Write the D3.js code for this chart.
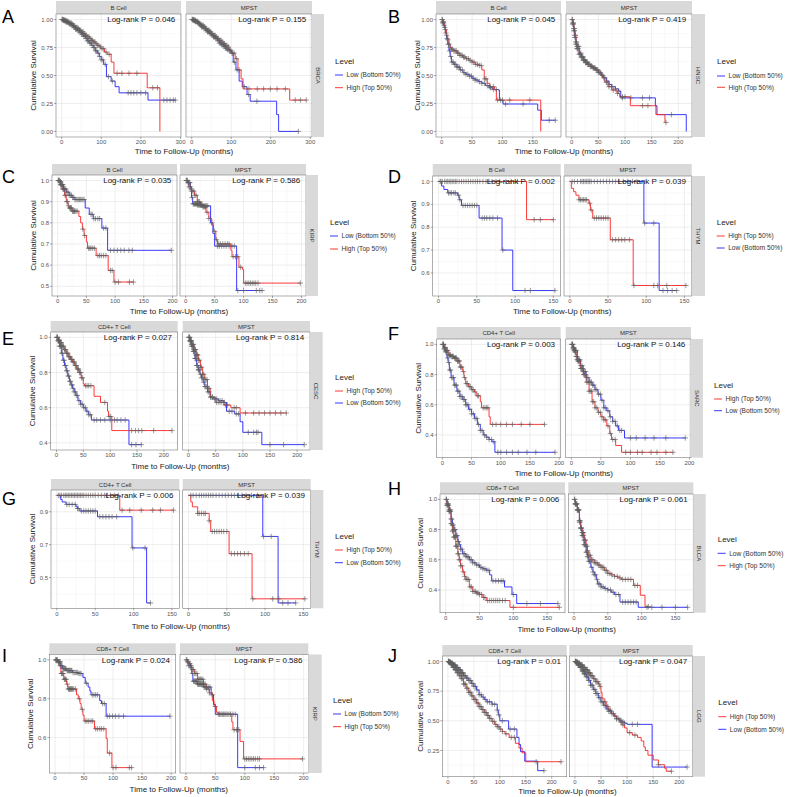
<!DOCTYPE html>
<html>
<head>
<meta charset="utf-8">
<script src="https://cdn.jsdelivr.net/npm/d3@7"></script>
<style>
  body { margin: 0; background: #fff; }
  svg { display: block; font-family: "Liberation Sans", Arial, sans-serif; font-weight: normal; }
</style>
</head>
<body>
<svg id="fig" width="787" height="797"></svg>
<script>
// ---- categories / labels ----
const letters = ["A", "B", "C", "D", "E", "F", "G", "H", "I", "J"];
const cancers = ["BRCA", "HNSC", "KIRP", "THYM", "CESC", "SARC", "THYM", "BLCA", "KIRP", "LGG"];
const cellTypes = ["B Cell", "B Cell", "B Cell", "B Cell", "CD4+ T Cell", "CD4+ T Cell",
  "CD4+ T Cell", "CD8+ T Cell", "CD8+ T Cell", "CD8+ T Cell"];
const pCell = ["0.046", "0.045", "0.035", "0.002", "0.027", "0.003", "0.006", "0.006", "0.024", "0.01"];
const pMpst = ["0.155", "0.419", "0.586", "0.039", "0.814", "0.146", "0.039", "0.061", "0.586", "0.047"];
const legendFirst = ["low", "low", "low", "high", "high", "high", "high", "low", "low", "high"];
const groupLabels = { low: "Low (Bottom 50%)", high: "High (Top 50%)" };
const yTicks = [
  [0, 0.25, 0.5, 0.75, 1], [0, 0.25, 0.5, 0.75, 1], [0.5, 0.6, 0.7, 0.8, 0.9, 1], [0.6, 0.7, 0.8, 0.9, 1],
  [0.4, 0.6, 0.8, 1], [0.4, 0.6, 0.8, 1], [0.5, 0.7, 0.9], [0.4, 0.6, 0.8, 1], [0.6, 0.8, 1], [0.25, 0.5, 0.75, 1]
];
const yDigits = [2, 2, 1, 1, 1, 1, 1, 1, 1, 2];
const xStep = [100, 50, 50, 50, 50, 50, 50, 50, 50, 50];

// ---- survival curves: [time, survival] steps, and censor times ----
// A BRCA
const aCellLow = [[0,1],[5,0.99],[10,0.98],[15,0.97],[20,0.96],[25,0.945],[30,0.93],[35,0.915],[40,0.9],[45,0.885],[50,0.87],[55,0.85],[60,0.83],[65,0.81],[70,0.79],[75,0.77],[80,0.75],[85,0.72],[90,0.7],[95,0.67],[100,0.64],[106,0.6],[113,0.49],[125,0.45],[135,0.4],[145,0.345],[218,0.28]];
const aCellLowCens = [2,4,6,8,10,12,14,17,20,23,26,29,32,35,38,41,44,47,50,53,56,59,62,65,68,71,74,77,80,83,86,89,92,96,100,104,110,118,128,168,175,182,190,200,212,258,266,274,282,287];
const aCellHigh = [[0,1],[5,0.995],[10,0.99],[15,0.98],[20,0.97],[25,0.96],[30,0.945],[35,0.93],[40,0.92],[45,0.905],[50,0.89],[55,0.875],[60,0.86],[65,0.845],[70,0.83],[75,0.815],[80,0.8],[85,0.785],[90,0.77],[95,0.755],[100,0.74],[108,0.71],[115,0.69],[125,0.62],[132,0.52],[216,0.39],[248,0]];
const aCellHighCens = [1,3,5,7,9,11,13,15,18,21,24,27,30,33,36,39,42,45,48,51,54,57,60,63,66,69,72,75,78,81,84,87,90,94,98,102,106,112,120,140,152,170,190,230,242];
const aMpstLow = [[0,1],[5,0.99],[10,0.98],[15,0.965],[20,0.95],[25,0.935],[30,0.92],[35,0.905],[40,0.89],[45,0.875],[50,0.86],[55,0.845],[60,0.83],[65,0.81],[70,0.79],[75,0.775],[80,0.76],[85,0.745],[90,0.73],[95,0.72],[100,0.7],[105,0.62],[112,0.55],[120,0.45],[128,0.4],[140,0.33],[148,0.27],[215,0.15],[220,0]];
const aMpstLowCens = [2,4,6,8,10,13,16,19,22,25,28,31,34,37,40,43,46,49,52,55,58,61,64,67,70,73,76,79,82,85,88,91,95,99,103,108,115,133,144,165,270];
const aMpstHigh = [[0,1],[5,0.995],[10,0.985],[15,0.975],[20,0.96],[25,0.95],[30,0.935],[35,0.92],[40,0.905],[45,0.89],[50,0.875],[55,0.86],[60,0.845],[65,0.83],[70,0.815],[75,0.8],[80,0.785],[85,0.77],[90,0.755],[95,0.73],[100,0.7],[110,0.65],[117,0.55],[125,0.47],[130,0.38],[248,0.28]];
const aMpstHighCens = [1,3,5,7,9,11,14,17,20,23,26,29,32,35,38,41,44,47,50,53,56,59,62,65,68,71,74,77,80,83,86,89,93,97,102,107,113,120,145,166,182,199,216,237,262,275,290];
// B HNSC
const bCellLow = [[0,1],[2,0.97],[4,0.93],[6,0.88],[8,0.83],[10,0.78],[12,0.72],[14,0.67],[16,0.62],[20,0.6],[25,0.575],[30,0.55],[35,0.525],[40,0.51],[45,0.495],[50,0.475],[55,0.46],[60,0.445],[66,0.43],[72,0.41],[78,0.39],[84,0.375],[93,0.37],[95,0.28],[101,0.245],[158,0.19],[164,0.1]];
const bCellLowCens = [1,2,3,5,7,9,11,13,15,17,19,21,23,25,27,29,31,34,37,40,43,46,49,52,55,58,62,66,70,75,80,85,90,97,105,134,177,187];
const bCellHigh = [[0,1],[2,0.98],[4,0.95],[6,0.91],[8,0.86],[10,0.82],[12,0.78],[14,0.75],[16,0.735],[20,0.72],[25,0.7],[30,0.68],[35,0.665],[40,0.65],[45,0.635],[50,0.62],[55,0.6],[60,0.59],[66,0.55],[70,0.47],[75,0.43],[79,0.4],[87,0.37],[90,0.28],[163,0]];
const bCellHighCens = [1,2,3,4,6,8,10,12,14,16,18,20,22,24,26,28,30,32,34,36,38,41,44,47,50,53,56,59,62,65,71,73,80,85,92,100,112,145];
const bMpstLow = [[0,1],[2,0.96],[4,0.9],[6,0.84],[8,0.78],[10,0.74],[14,0.69],[18,0.66],[22,0.635],[26,0.615],[30,0.6],[35,0.58],[40,0.565],[45,0.55],[50,0.525],[55,0.5],[60,0.48],[65,0.45],[70,0.42],[75,0.4],[82,0.38],[88,0.36],[92,0.3],[157,0.23],[160,0.15],[215,0]];
const bMpstLowCens = [1,2,3,4,5,6,7,8,9,10,11,12,14,16,18,20,22,24,26,28,30,32,35,38,41,44,47,50,54,58,62,66,70,76,82,88,95,111,133,146,187];
const bMpstHigh = [[0,1],[2,0.97],[4,0.92],[6,0.86],[8,0.8],[10,0.76],[14,0.7],[18,0.67],[22,0.64],[26,0.62],[30,0.6],[35,0.585],[40,0.57],[45,0.55],[50,0.53],[55,0.51],[58,0.48],[62,0.44],[68,0.4],[75,0.37],[85,0.34],[90,0.31],[110,0.23],[158,0.15],[175,0.08]];
const bMpstHighCens = [1,2,3,4,5,6,7,8,9,10,12,13,15,17,19,21,23,25,27,29,31,34,37,40,43,46,49,52,56,60,65,70,78,86,95,100,133,143,177];
// C KIRP
const cCellLow = [[0,1],[3,0.995],[6,0.98],[10,0.96],[15,0.945],[20,0.93],[25,0.92],[30,0.91],[48,0.87],[55,0.84],[62,0.82],[77,0.775],[87,0.67]];
const cCellLowCens = [2,4,5,7,8,9,11,12,14,16,18,20,22,24,26,28,30,32,34,36,38,40,42,44,46,58,60,63,66,70,73,80,84,92,98,104,110,116,124,130,198];
const cCellHigh = [[0,1],[4,0.98],[8,0.96],[12,0.93],[15,0.9],[18,0.88],[20,0.87],[25,0.855],[37,0.83],[40,0.8],[43,0.77],[46,0.74],[50,0.71],[52,0.68],[67,0.645],[88,0.575],[98,0.52]];
const cCellHighCens = [1,2,3,5,6,7,9,10,11,13,14,16,17,19,21,22,23,24,26,27,28,29,30,32,34,44,47,54,56,58,61,64,70,73,76,80,84,92,95,100,106,125,132];
const cMpstLow = [[0,1],[4,0.99],[8,0.96],[10,0.92],[12,0.89],[20,0.885],[30,0.88],[43,0.8],[47,0.75],[50,0.69],[88,0.48]];
const cMpstLowCens = [2,3,5,6,7,9,11,13,14,15,16,17,18,19,20,21,22,23,24,25,26,27,28,30,32,34,36,38,45,55,58,62,66,70,75,80,84,90,100,122,128,132];
const cMpstHigh = [[0,1],[3,0.99],[5,0.97],[10,0.95],[15,0.93],[20,0.9],[25,0.885],[30,0.875],[35,0.85],[40,0.82],[45,0.79],[48,0.76],[52,0.72],[55,0.7],[78,0.67],[80,0.64],[92,0.59],[98,0.58],[100,0.515]];
const cMpstHighCens = [1,2,4,6,8,10,12,14,16,18,20,22,24,26,28,30,32,34,37,40,50,53,57,60,64,68,72,75,82,86,90,95,103,106,109,112,115,118,121,125,198];
// D THYM
const dCellHigh = [[0,1],[115,0.833]];
const dCellHighCens = [3,5,8,10,12,14,16,18,20,22,24,27,30,33,36,39,42,45,48,51,54,58,62,66,70,75,80,88,95,103,125,133,150];
const dCellLow = [[0,1],[4,0.98],[7,0.965],[12,0.95],[25,0.94],[27,0.92],[30,0.895],[53,0.84],[83,0.7],[97,0.523]];
const dCellLowCens = [2,13,15,17,20,22,26,28,32,35,38,41,44,47,50,57,60,63,67,71,77,84,113,120,152];
const dMpstHigh = [[0,1],[2,0.97],[5,0.955],[8,0.94],[12,0.92],[25,0.905],[27,0.875],[30,0.84],[53,0.745],[83,0.545]];
const dMpstHighCens = [12,14,16,18,20,22,26,28,32,35,38,41,44,47,50,56,60,64,68,72,78,84,110,115,127,152];
const dMpstLow = [[0,1],[97,0.818],[117,0.523]];
const dMpstLowCens = [3,6,10,14,16,18,20,22,24,26,28,32,36,40,44,48,52,56,60,64,70,76,82,88,98,110,122,128,134,140];
// E CESC
const eCellHigh = [[0,1],[3,0.985],[6,0.97],[10,0.95],[14,0.93],[18,0.91],[22,0.89],[26,0.875],[30,0.86],[34,0.84],[38,0.82],[42,0.8],[46,0.77],[50,0.735],[52,0.725],[70,0.665],[82,0.63],[95,0.58],[97,0.55],[103,0.47]];
const eCellHighCens = [1,2,4,5,7,8,9,11,12,13,15,16,17,19,20,21,23,24,25,27,28,29,31,32,33,35,36,37,39,40,41,43,44,45,47,48,54,57,60,64,90,98,101,140,147,153,159,181,215];
const eCellLow = [[0,1],[3,0.98],[6,0.95],[9,0.91],[12,0.87],[15,0.84],[18,0.81],[21,0.78],[24,0.75],[27,0.73],[30,0.71],[33,0.69],[36,0.67],[40,0.64],[45,0.62],[50,0.6],[55,0.58],[60,0.56],[65,0.53],[135,0.39]];
const eCellLowCens = [1,2,3,4,5,6,7,8,10,11,13,14,16,17,19,20,22,23,25,26,28,29,31,33,35,37,39,42,45,48,51,54,57,60,63,70,75,82,90,100,108,113,120,128,140,148,158];
const eMpstHigh = [[0,1],[3,0.98],[6,0.96],[10,0.93],[14,0.9],[18,0.87],[22,0.83],[26,0.79],[30,0.76],[35,0.71],[40,0.66],[50,0.63],[65,0.615],[78,0.6],[95,0.57]];
const eMpstHighCens = [1,2,3,4,5,6,7,8,9,10,11,12,13,14,15,16,17,18,20,22,24,26,28,30,32,34,36,38,41,44,52,56,60,68,72,84,88,105,120,130,140,150,160,170,180];
const eMpstLow = [[0,1],[3,0.98],[6,0.95],[9,0.92],[12,0.88],[15,0.84],[18,0.815],[21,0.79],[24,0.77],[27,0.745],[30,0.72],[35,0.69],[40,0.66],[45,0.65],[55,0.64],[65,0.63],[70,0.58],[85,0.565],[95,0.52],[100,0.46],[135,0.39]];
const eMpstLowCens = [1,2,3,4,5,6,7,8,9,10,11,12,13,14,15,16,17,18,19,20,22,24,26,28,30,32,34,36,38,41,44,48,52,58,62,66,75,80,88,92,110,120,125,128,150,175,213];
// F SARC
const fCellHigh = [[0,1],[3,0.98],[6,0.96],[10,0.93],[15,0.92],[20,0.91],[25,0.89],[30,0.85],[35,0.82],[37,0.78],[40,0.74],[45,0.72],[50,0.7],[55,0.685],[58,0.66],[65,0.62],[67,0.58],[80,0.52],[82,0.47]];
const fCellHighCens = [1,2,4,5,7,8,9,11,12,13,14,16,17,18,19,21,22,23,24,26,27,28,29,31,32,33,36,38,41,43,46,48,51,53,56,60,62,70,73,76,78,86,92,100,110,120,135,150,175];
const fCellLow = [[0,1],[3,0.97],[5,0.95],[8,0.91],[10,0.88],[12,0.83],[15,0.78],[20,0.73],[25,0.69],[30,0.655],[35,0.635],[40,0.6],[45,0.57],[50,0.54],[55,0.51],[60,0.47],[65,0.43],[70,0.4],[75,0.385],[80,0.37],[85,0.355],[90,0.285]];
const fCellLowCens = [1,2,3,4,6,7,9,11,13,14,16,18,19,21,23,24,26,28,30,32,34,36,38,40,42,44,47,50,53,56,59,62,65,68,72,76,80,84,88,95,100,110,120,130,145,160,193];
const fMpstHigh = [[0,1],[3,0.97],[5,0.95],[8,0.92],[10,0.89],[15,0.84],[20,0.8],[25,0.75],[30,0.69],[35,0.62],[40,0.58],[45,0.55],[50,0.52],[55,0.5],[60,0.46],[65,0.41],[68,0.37],[75,0.33],[85,0.285]];
const fMpstHighCens = [1,2,3,4,6,7,8,9,11,12,13,14,16,17,18,19,21,22,23,24,26,28,30,32,34,36,38,40,43,46,49,52,55,58,62,66,70,74,92,100,112,120,135,145,160,172];
const fMpstLow = [[0,1],[3,0.98],[5,0.96],[10,0.9],[15,0.86],[20,0.82],[25,0.78],[30,0.75],[35,0.73],[40,0.7],[45,0.67],[50,0.63],[55,0.58],[60,0.56],[65,0.52],[70,0.49],[75,0.46],[80,0.43],[90,0.38]];
const fMpstLowCens = [1,2,3,4,5,6,7,8,10,12,14,16,18,20,22,24,26,28,30,32,34,36,38,40,43,46,49,52,55,58,62,66,70,74,78,82,85,100,110,125,140,160,193];
// G THYM
const gCellHigh = [[0,1],[82,0.91]];
const gCellHighCens = [2,4,6,9,11,13,15,17,19,21,23,25,27,29,31,33,35,38,41,44,47,50,54,58,62,66,70,75,80,85,95,110,125,135,152];
const gCellLow = [[0,1],[5,0.975],[7,0.96],[12,0.945],[25,0.93],[27,0.92],[30,0.905],[53,0.87],[98,0.68],[117,0.345]];
const gCellLowCens = [13,16,20,24,27,28,32,35,38,41,44,47,50,56,60,64,68,72,78,99,115,122];
const gMpstHigh = [[0,1],[3,0.96],[5,0.93],[12,0.89],[27,0.845],[29,0.78],[53,0.645],[83,0.37]];
const gMpstHighCens = [12,14,17,20,22,27,31,34,37,40,43,46,50,56,60,64,68,73,78,84,110,118,152];
const gMpstLow = [[0,1],[97,0.75],[117,0.345]];
const gMpstLowCens = [3,6,10,14,17,20,23,26,29,32,36,40,44,48,52,56,60,65,70,75,82,90,98,108,123,130,140];
// H BLCA
const hCellLow = [[0,1],[2,0.97],[5,0.93],[8,0.87],[10,0.83],[12,0.8],[15,0.76],[18,0.72],[20,0.7],[22,0.67],[25,0.64],[30,0.62],[35,0.6],[40,0.58],[45,0.565],[50,0.55],[55,0.54],[60,0.53],[65,0.5],[68,0.46],[87,0.42],[98,0.37],[105,0.31]];
const hCellLowCens = [1,2,3,4,5,6,7,8,9,10,11,12,13,14,15,16,17,18,19,20,22,24,26,28,30,32,34,36,38,40,43,46,49,52,55,58,61,64,70,74,78,82,85,100,120,140,166];
const hCellHigh = [[0,1],[2,0.96],[5,0.92],[8,0.84],[10,0.79],[12,0.75],[15,0.69],[18,0.64],[20,0.6],[22,0.56],[25,0.52],[28,0.49],[30,0.47],[35,0.42],[40,0.39],[45,0.38],[50,0.37],[55,0.35],[60,0.33],[95,0.285]];
const hCellHighCens = [1,2,3,4,5,6,7,8,9,10,11,12,13,14,15,16,17,18,19,20,21,22,24,26,28,30,32,34,36,38,40,42,44,46,48,50,53,56,58,62,65,68,71,74,77,80,84,88,100,168];
const hMpstLow = [[0,1],[2,0.97],[5,0.93],[8,0.86],[10,0.81],[12,0.76],[15,0.7],[18,0.65],[20,0.62],[22,0.59],[25,0.55],[28,0.52],[30,0.5],[33,0.47],[35,0.44],[40,0.42],[45,0.41],[50,0.4],[55,0.385],[60,0.37],[68,0.32],[95,0.285]];
const hMpstLowCens = [1,2,3,4,5,6,7,8,9,10,11,12,13,14,15,16,17,18,19,20,21,22,23,24,26,28,30,32,34,36,38,40,43,46,50,54,58,62,66,72,76,80,84,88,92,108,115,130,150,168];
const hMpstHigh = [[0,1],[2,0.97],[5,0.93],[8,0.85],[10,0.81],[12,0.78],[15,0.73],[18,0.69],[20,0.66],[22,0.63],[25,0.6],[30,0.58],[35,0.565],[40,0.55],[45,0.53],[50,0.51],[55,0.5],[60,0.49],[65,0.48],[70,0.47],[88,0.43],[98,0.365],[105,0.29]];
const hMpstHighCens = [1,2,3,4,5,6,7,8,9,10,11,12,13,14,15,16,17,18,19,20,22,24,26,28,30,32,34,36,38,40,42,44,46,48,50,53,56,60,64,68,72,76,80,84,90,94,110];
// I KIRP
const iCellLow = [[0,1],[5,0.99],[10,0.97],[13,0.955],[20,0.945],[30,0.935],[40,0.93],[48,0.91],[52,0.88],[57,0.86],[60,0.84],[62,0.82],[77,0.79],[80,0.775],[88,0.71]];
const iCellLowCens = [2,3,4,6,7,8,9,11,12,14,15,16,17,18,19,21,22,23,24,25,26,27,28,29,31,33,35,37,39,41,43,45,54,64,67,70,73,82,85,90,94,99,104,110,118,198];
const iCellHigh = [[0,1],[5,0.985],[8,0.97],[10,0.93],[15,0.9],[20,0.875],[22,0.85],[37,0.82],[40,0.8],[43,0.775],[45,0.745],[48,0.715],[50,0.685],[68,0.645],[88,0.595],[90,0.52],[98,0.445]];
const iCellHighCens = [1,3,6,9,11,12,13,14,16,17,18,19,21,23,24,25,26,27,28,29,30,32,35,42,47,52,55,58,62,65,70,73,77,80,84,94,100,105,128,132];
const iMpstLow = [[0,1],[3,0.99],[5,0.98],[8,0.96],[10,0.93],[12,0.89],[20,0.875],[30,0.86],[43,0.82],[47,0.77],[50,0.72],[88,0.445]];
const iMpstLowCens = [2,4,6,7,9,11,13,14,15,16,17,18,19,20,21,22,23,24,25,26,27,28,29,31,33,35,38,41,45,55,58,62,66,70,75,80,84,100,118,125,132];
const iMpstHigh = [[0,1],[3,0.99],[5,0.97],[10,0.95],[15,0.93],[20,0.9],[30,0.875],[35,0.85],[40,0.83],[45,0.79],[48,0.76],[52,0.73],[55,0.72],[78,0.68],[80,0.64],[92,0.58],[98,0.49]];
const iMpstHighCens = [1,3,5,7,9,11,13,15,17,19,21,23,25,27,29,31,33,35,38,40,50,57,60,64,68,72,76,82,86,90,100,103,106,109,112,115,118,122,125,198];
// J LGG
const jCellHigh = [[0,1],[3,0.99],[6,0.975],[10,0.95],[14,0.93],[18,0.905],[22,0.88],[26,0.855],[30,0.81],[35,0.775],[40,0.74],[45,0.71],[50,0.68],[55,0.65],[60,0.62],[65,0.595],[70,0.57],[75,0.545],[80,0.52],[85,0.495],[90,0.47],[95,0.45],[100,0.43],[105,0.41],[110,0.39],[118,0.36],[130,0.31],[137,0.27],[143,0.23],[150,0.155]];
const jCellHighCens = [1,2,3,4,5,6,7,8,9,10,11,12,13,14,15,16,17,18,19,20,22,24,26,28,30,32,34,36,38,40,42,44,46,48,50,52,54,56,58,60,62,64,66,68,70,72,74,76,78,80,83,86,89,92,95,98,101,105,112,122,128,170,218];
const jCellLow = [[0,1],[3,0.995],[6,0.985],[10,0.97],[15,0.95],[20,0.93],[25,0.905],[30,0.88],[35,0.86],[40,0.84],[45,0.815],[50,0.79],[55,0.76],[60,0.72],[65,0.7],[70,0.68],[75,0.66],[85,0.64],[95,0.59],[97,0.55],[100,0.5],[117,0.43],[133,0.36],[137,0.3],[140,0.24],[148,0.16],[173,0.08]];
const jCellLowCens = [1,2,3,4,5,6,7,8,9,10,11,12,13,14,15,16,17,18,19,20,21,22,23,24,25,26,27,28,29,30,32,34,36,38,40,42,44,46,48,50,53,56,60,64,68,72,76,80,85,90,95,98,105,120,128,185];
const jMpstHigh = [[0,1],[3,0.995],[6,0.985],[10,0.97],[15,0.95],[20,0.93],[25,0.905],[30,0.88],[35,0.855],[40,0.83],[45,0.81],[48,0.79],[50,0.74],[52,0.69],[56,0.66],[60,0.62],[65,0.59],[70,0.565],[75,0.54],[80,0.515],[85,0.49],[90,0.465],[95,0.44],[100,0.4],[110,0.38],[120,0.36],[127,0.33],[132,0.28],[135,0.25],[140,0.21],[150,0.17],[160,0.13],[172,0.1],[175,0.075]];
const jMpstHighCens = [1,2,3,4,5,6,7,8,9,10,11,12,13,14,15,16,17,18,19,20,21,22,23,24,25,26,27,28,29,30,32,34,36,38,40,42,44,46,48,58,63,68,80,88,92,105,115,160,185];
const jMpstLow = [[0,1],[3,0.99],[6,0.97],[10,0.95],[14,0.92],[18,0.895],[22,0.87],[26,0.84],[30,0.8],[35,0.765],[40,0.73],[45,0.695],[50,0.66],[55,0.63],[60,0.6],[65,0.58],[70,0.56],[75,0.54],[80,0.52],[85,0.505],[90,0.49],[95,0.48],[100,0.47],[148,0.11]];
const jMpstLowCens = [1,2,3,4,5,6,7,8,9,10,11,12,13,14,15,16,17,18,19,20,22,24,26,28,30,32,34,36,38,40,42,44,46,48,50,53,56,59,62,65,68,71,74,77,80,84,88,92,95,110,120,215];

// facet -> group -> [steps, censors]
const curves = [
  [{ low: [aCellLow, aCellLowCens], high: [aCellHigh, aCellHighCens] }, { low: [aMpstLow, aMpstLowCens], high: [aMpstHigh, aMpstHighCens] }],
  [{ low: [bCellLow, bCellLowCens], high: [bCellHigh, bCellHighCens] }, { low: [bMpstLow, bMpstLowCens], high: [bMpstHigh, bMpstHighCens] }],
  [{ low: [cCellLow, cCellLowCens], high: [cCellHigh, cCellHighCens] }, { low: [cMpstLow, cMpstLowCens], high: [cMpstHigh, cMpstHighCens] }],
  [{ low: [dCellLow, dCellLowCens], high: [dCellHigh, dCellHighCens] }, { low: [dMpstLow, dMpstLowCens], high: [dMpstHigh, dMpstHighCens] }],
  [{ low: [eCellLow, eCellLowCens], high: [eCellHigh, eCellHighCens] }, { low: [eMpstLow, eMpstLowCens], high: [eMpstHigh, eMpstHighCens] }],
  [{ low: [fCellLow, fCellLowCens], high: [fCellHigh, fCellHighCens] }, { low: [fMpstLow, fMpstLowCens], high: [fMpstHigh, fMpstHighCens] }],
  [{ low: [gCellLow, gCellLowCens], high: [gCellHigh, gCellHighCens] }, { low: [gMpstLow, gMpstLowCens], high: [gMpstHigh, gMpstHighCens] }],
  [{ low: [hCellLow, hCellLowCens], high: [hCellHigh, hCellHighCens] }, { low: [hMpstLow, hMpstLowCens], high: [hMpstHigh, hMpstHighCens] }],
  [{ low: [iCellLow, iCellLowCens], high: [iCellHigh, iCellHighCens] }, { low: [iMpstLow, iMpstLowCens], high: [iMpstHigh, iMpstHighCens] }],
  [{ low: [jCellLow, jCellLowCens], high: [jCellHigh, jCellHighCens] }, { low: [jMpstLow, jMpstLowCens], high: [jMpstHigh, jMpstHighCens] }]
];

// ---- page layout (pixels) ----
const layout = [
  { lx: 2, ly: 23, st: 1, top: 14, bot: 137, f1: [56, 181], f2: [186, 312], rs: [312, 324], yl: 33, xl: 151, lg: [335, 61], li: [75, 87.7] },
  { lx: 388, ly: 23, st: 1, top: 14, bot: 137, f1: [436, 561], f2: [566, 692], rs: [692, 705], yl: 416.7, xl: 151, lg: [717, 61], li: [76, 87.3] },
  { lx: 2, ly: 183, st: 164, top: 175, bot: 296, f1: [52, 177], f2: [180, 306], rs: [306, 318], yl: 33, xl: 311, lg: [330, 222], li: [236, 249] },
  { lx: 388, ly: 183, st: 164, top: 176, bot: 296, f1: [432.7, 560.7], f2: [564, 691.7], rs: [691.7, 705], yl: 413, xl: 310.7, lg: [716.7, 221.7], li: [236, 248] },
  { lx: 2, ly: 345, st: 321, top: 332, bot: 450, f1: [50.7, 177.7], f2: [182.7, 310], rs: [310, 322.7], yl: 31.7, xl: 465.7, lg: [335, 377], li: [391, 403] },
  { lx: 388, ly: 340, st: 327, top: 339, bot: 457.7, f1: [436.7, 560.7], f2: [565.7, 691], rs: [691, 703], yl: 417.7, xl: 473, lg: [714, 385], li: [399, 410.7] },
  { lx: 2, ly: 505, st: 479, top: 490, bot: 608.3, f1: [51, 179.3], f2: [182.7, 310.7], rs: [310.7, 323.3], yl: 31.7, xl: 625.7, lg: [335, 536], li: [550, 562.7] },
  { lx: 388, ly: 495, st: 482.3, top: 494, bot: 612.7, f1: [440, 565], f2: [568.3, 693.3], rs: [693.3, 705.7], yl: 420, xl: 629, lg: [717.7, 539], li: [553.3, 565.7] },
  { lx: 2, ly: 662, st: 643.3, top: 654.5, bot: 773, f1: [49.3, 175.7], f2: [180, 308.3], rs: [308.3, 321.7], yl: 30, xl: 789.3, lg: [333, 700], li: [714, 726.7] },
  { lx: 388, ly: 662, st: 645, top: 656, bot: 776.7, f1: [442.3, 566.7], f2: [569.3, 692.7], rs: [692.7, 705], yl: 420, xl: 790.7, lg: [718.3, 701.7], li: [716.7, 729.3] }
];

const colors = { low: "#2323ff", high: "#ff2323" };
const svg = d3.select("#fig");

const stepValue = (steps, t) => {
  let s = 1;
  for (const [tt, ss] of steps) { if (tt <= t) s = ss; else break; }
  return s;
};
const facetMax = f => d3.max(["low", "high"], g => Math.max(d3.max(f[g][0], d => d[0]), d3.max(f[g][1])));
const midTicks = (ticks, step, dom) => {
  const out = [];
  ticks.forEach(t => { out.push(t - step / 2); out.push(t + step / 2); });
  return Array.from(new Set(out)).filter(v => v >= dom[0] && v <= dom[1] && !ticks.includes(v));
};

letters.forEach((letter, i) => {
  const L = layout[i];
  const g = svg.append("g");
  const order = legendFirst[i] === "low" ? ["low", "high"] : ["high", "low"];

  // shared y scale for the row
  const yMin = d3.min(curves[i], f => d3.min(["low", "high"], k => d3.min(f[k][0], d => d[1])));
  const pad = 0.05 * (1 - yMin);
  const y = d3.scaleLinear().domain([yMin - pad, 1 + pad]).range([L.bot, L.top]);
  const yt = yTicks[i];
  const yStep = yt[1] - yt[0];
  const yMinor = midTicks(yt, yStep, y.domain());

  g.append("text").attr("x", L.lx).attr("y", L.ly)
    .attr("font-size", 18).attr("fill", "#000").text(letter);

  [L.f1, L.f2].forEach((fx, k) => {
    const facet = curves[i][k];
    const M = facetMax(facet);
    const x = d3.scaleLinear().domain([-0.05 * M, 1.05 * M]).range(fx);
    const xt = d3.range(0, 1.05 * M + 0.001, xStep[i]);
    const xMinor = midTicks(xt, xStep[i], x.domain());
    const fg = g.append("g");
    const clipId = `clip-${letter}-${k}`;
    fg.append("clipPath").attr("id", clipId).append("rect")
      .attr("x", fx[0]).attr("y", L.top).attr("width", fx[1] - fx[0]).attr("height", L.bot - L.top);

    // strip on top
    fg.append("rect").attr("x", fx[0]).attr("y", L.st).attr("width", fx[1] - fx[0]).attr("height", L.top - L.st)
      .attr("fill", "#d9d9d9");
    fg.append("text").attr("x", (fx[0] + fx[1]) / 2).attr("y", (L.st + L.top) / 2).attr("dy", "0.35em")
      .attr("text-anchor", "middle").attr("font-size", 6).attr("fill", "#333")
      .text(k === 0 ? cellTypes[i] : "MPST");

    // panel + grid
    fg.append("rect").attr("x", fx[0]).attr("y", L.top).attr("width", fx[1] - fx[0]).attr("height", L.bot - L.top)
      .attr("fill", "#fff");
    const grid = fg.append("g");
    grid.selectAll("line.ymn").data(yMinor).join("line")
      .attr("x1", fx[0]).attr("x2", fx[1]).attr("y1", d => y(d)).attr("y2", d => y(d))
      .attr("stroke", "#f0f0f0").attr("stroke-width", 0.4);
    grid.selectAll("line.xmn").data(xMinor).join("line")
      .attr("y1", L.top).attr("y2", L.bot).attr("x1", d => x(d)).attr("x2", d => x(d))
      .attr("stroke", "#f0f0f0").attr("stroke-width", 0.4);
    grid.selectAll("line.ymj").data(yt).join("line")
      .attr("x1", fx[0]).attr("x2", fx[1]).attr("y1", d => y(d)).attr("y2", d => y(d))
      .attr("stroke", "#e3e3e3").attr("stroke-width", 0.6);
    grid.selectAll("line.xmj").data(xt).join("line")
      .attr("y1", L.top).attr("y2", L.bot).attr("x1", d => x(d)).attr("x2", d => x(d))
      .attr("stroke", "#e3e3e3").attr("stroke-width", 0.6);

    // curves
    const plot = fg.append("g").attr("clip-path", `url(#${clipId})`);
    const line = d3.line().x(d => x(d[0])).y(d => y(d[1])).curve(d3.curveStepAfter);
    ["low", "high"].forEach(grp => {
      const [steps, cens] = facet[grp];
      const pts = steps.slice();
      const last = steps[steps.length - 1];
      const end = Math.max(last[0], d3.max(cens));
      if (end > last[0]) pts.push([end, last[1]]);
      plot.append("path").attr("d", line(pts)).attr("fill", "none")
        .attr("stroke", colors[grp]).attr("stroke-width", 0.9);
    });
    ["low", "high"].forEach(grp => {
      const [steps, cens] = facet[grp];
      plot.selectAll(null).data(cens).join("path")
        .attr("transform", t => `translate(${x(t)},${y(stepValue(steps, t))})`)
        .attr("d", "M-2.7,0H2.7M0,-2.7V2.7")
        .attr("stroke", "#606060").attr("stroke-opacity", 0.8).attr("stroke-width", 0.8);
    });

    // log-rank annotation
    fg.append("text").attr("x", x(M)).attr("y", y(1)).attr("dy", "0.35em")
      .attr("text-anchor", "end").attr("font-size", 8).attr("fill", "#111")
      .text(`Log-rank P = ${k === 0 ? pCell[i] : pMpst[i]}`);

    fg.append("rect").attr("x", fx[0]).attr("y", L.top).attr("width", fx[1] - fx[0]).attr("height", L.bot - L.top)
      .attr("fill", "none").attr("stroke", "#7a7a7a").attr("stroke-width", 0.6);

    // x axis
    const xa = fg.append("g");
    xa.selectAll("line").data(xt).join("line")
      .attr("x1", d => x(d)).attr("x2", d => x(d)).attr("y1", L.bot).attr("y2", L.bot + 2)
      .attr("stroke", "#555").attr("stroke-width", 0.5);
    xa.selectAll("text").data(xt).join("text")
      .attr("x", d => x(d)).attr("y", L.bot + 7.4).attr("text-anchor", "middle")
      .attr("font-size", 6).attr("fill", "#555").text(d => d);

    // y axis on the first facet only
    if (k === 0) {
      const ya = fg.append("g");
      ya.selectAll("line").data(yt).join("line")
        .attr("x1", fx[0] - 2).attr("x2", fx[0]).attr("y1", d => y(d)).attr("y2", d => y(d))
        .attr("stroke", "#555").attr("stroke-width", 0.5);
      ya.selectAll("text").data(yt).join("text")
        .attr("x", fx[0] - 3).attr("y", d => y(d)).attr("dy", "0.35em").attr("text-anchor", "end")
        .attr("font-size", 6).attr("fill", "#555").text(d => d.toFixed(yDigits[i]));
    }
  });

  // right strip
  g.append("rect").attr("x", L.rs[0]).attr("y", L.top).attr("width", L.rs[1] - L.rs[0]).attr("height", L.bot - L.top)
    .attr("fill", "#d9d9d9");
  g.append("text")
    .attr("transform", `translate(${(L.rs[0] + L.rs[1]) / 2},${(L.top + L.bot) / 2}) rotate(90)`)
    .attr("dy", "0.35em").attr("text-anchor", "middle").attr("font-size", 6).attr("fill", "#333")
    .text(cancers[i]);

  // axis titles
  g.append("text").attr("x", (L.f1[0] + L.f2[1]) / 2).attr("y", L.xl).attr("dy", "0.35em")
    .attr("text-anchor", "middle").attr("font-size", 8).attr("fill", "#222").text("Time to Follow-Up (months)");
  g.append("text")
    .attr("transform", `translate(${L.yl},${(L.top + L.bot) / 2}) rotate(-90)`)
    .attr("dy", "0.35em").attr("text-anchor", "middle").attr("font-size", 8).attr("fill", "#222")
    .text("Cumulative Survival");

  // legend
  g.append("text").attr("x", L.lg[0]).attr("y", L.lg[1]).attr("dy", "0.35em")
    .attr("font-size", 8).attr("fill", "#222").text("Level");
  order.forEach((grp, j) => {
    g.append("line").attr("x1", L.lg[0]).attr("x2", L.lg[0] + 8).attr("y1", L.li[j]).attr("y2", L.li[j])
      .attr("stroke", colors[grp]).attr("stroke-width", 0.9);
    g.append("text").attr("x", L.lg[0] + 11.5).attr("y", L.li[j]).attr("dy", "0.35em")
      .attr("font-size", 6.6).attr("fill", "#333").text(groupLabels[grp]);
  });
});
</script>
</body>
</html>
